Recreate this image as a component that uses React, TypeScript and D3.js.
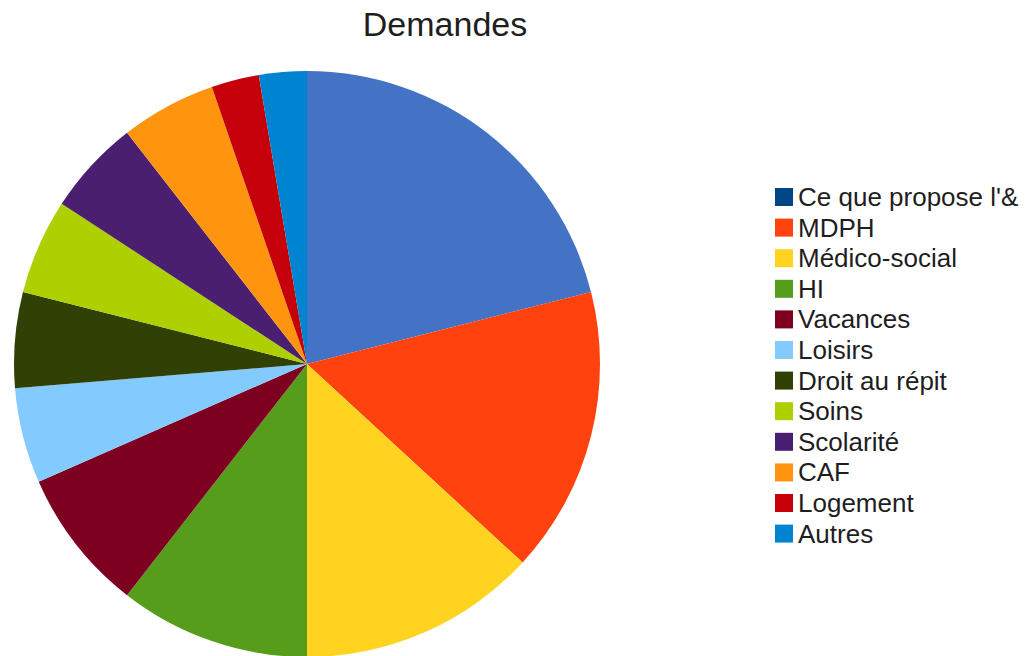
import React from 'react';
import * as d3 from 'd3';

const categories = [
  "Ce que propose l'&",
  'MDPH',
  'Médico-social',
  'HI',
  'Vacances',
  'Loisirs',
  'Droit au répit',
  'Soins',
  'Scolarité',
  'CAF',
  'Logement',
  'Autres',
];
const values = [8, 6, 5, 4, 3, 2, 2, 2, 2, 2, 1, 1];
const sliceColors = [
  '#4472c4', '#ff420e', '#ffd320', '#579d1c', '#7e0021', '#83caff',
  '#314004', '#aecf00', '#4b1f6f', '#ff950e', '#c5000b', '#0084d1',
];
const legendColors = [
  '#004586', '#ff420e', '#ffd320', '#579d1c', '#7e0021', '#83caff',
  '#314004', '#aecf00', '#4b1f6f', '#ff950e', '#c5000b', '#0084d1',
];

const width = 1032;
const height = 656;

export default function App() {
  const cx = 307;
  const cy = 364;
  const radius = 293;

  const pie = d3.pie<number>().sort(null).value(d => d);
  const arcs = pie(values);
  const arc = d3.arc<d3.PieArcDatum<number>>().innerRadius(0).outerRadius(radius);

  const legendY = d3.scaleLinear().domain([0, 1]).range([197, 227.6]);
  const font = '"Liberation Sans", Arial, sans-serif';

  return (
    <>
      <style>{'body{margin:0}'}</style>
      <svg width={width} height={height} style={{ display: 'block', background: '#fff' }}>
        <text x={445} y={36} textAnchor="middle" fontFamily={font} fontSize={34} fill="#1e1e1e">
          Demandes
        </text>
        <g transform={`translate(${cx},${cy})`}>
          {arcs.map((a, i) => (
            <path key={categories[i]} d={arc(a) || ''} fill={sliceColors[i]} />
          ))}
        </g>
        <g>
          {categories.map((c, i) => {
            const y = legendY(i);
            return (
              <g key={c}>
                <rect x={775} y={y - 9} width={18} height={18} fill={legendColors[i]} />
                <text x={798} y={y + 9} fontFamily={font} fontSize={26} fill="#1e1e1e">
                  {c}
                </text>
              </g>
            );
          })}
        </g>
      </svg>
    </>
  );
}
